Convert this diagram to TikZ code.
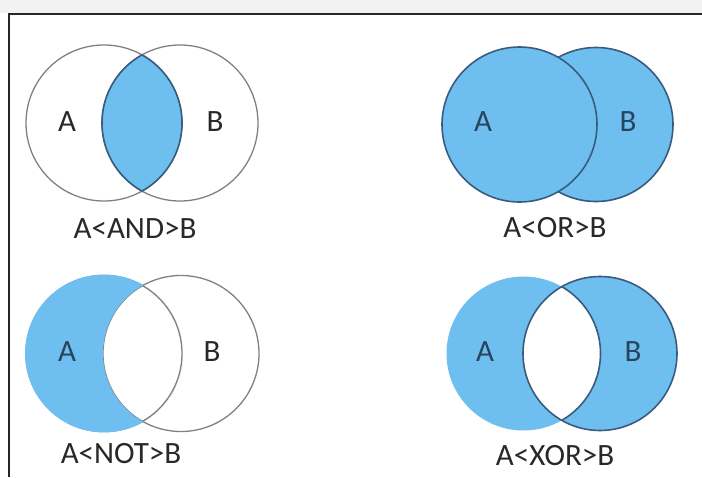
\documentclass[tikz,border=0pt]{standalone}
\usepackage{fontspec}
\setmainfont{Carlito}
\definecolor{vennblue}{RGB}{110,190,240}
\definecolor{venndark}{RGB}{55,92,125}
\definecolor{venngray}{RGB}{128,128,128}
\definecolor{labelgray}{RGB}{40,40,40}
\begin{document}
\begin{tikzpicture}[x=1pt,y=-1pt,
    setlbl/.style={font=\fontsize{31}{36}\selectfont, inner sep=0pt, text=labelgray},
    inlbl/.style={setlbl, text=venndark!75!black},
    thinring/.style={venngray, line width=1.3pt},
    darkring/.style={venndark, line width=1.6pt}]
\useasboundingbox (0,0) rectangle (702,477);
\fill[black!5] (0,0) rectangle (702,13);
\draw[line width=2pt, black!85] (8.5,477) -- (8.5,13.5) -- (702,13.5);

% A<AND>B
\coordinate (andAc) at (104,123);
\coordinate (andBc) at (180,123);
\draw[thinring] (andAc) circle (78);
\draw[thinring] (andBc) circle (78);
\begin{scope}
  \clip (andAc) circle (78);
  \fill[vennblue] (andBc) circle (78);
  \draw[darkring] (andBc) circle (78);
\end{scope}
\begin{scope}
  \clip (andBc) circle (78);
  \draw[darkring] (andAc) circle (78);
\end{scope}
\node[setlbl] (andA) at (67,122) {A};
\node[setlbl] (andB) at (215,122) {B};
\node[setlbl] (andcap) at (135,229) {A<AND>B};

% A<OR>B
\coordinate (orAc) at (519.5,124.5);
\coordinate (orBc) at (596,124.5);
\fill[vennblue] (orBc) circle (77);
\draw[darkring] (orBc) circle (77);
\fill[vennblue] (orAc) circle (77.5);
\draw[darkring] (orAc) circle (77.5);
\node[inlbl] (orA) at (483,122) {A};
\node[inlbl] (orB) at (628,122) {B};
\node[setlbl] (orcap) at (555,228) {A<OR>B};

% A<NOT>B
\coordinate (notAc) at (104,353.5);
\coordinate (notBc) at (181,353.5);
\draw[thinring] (notBc) circle (78);
\draw[thinring] (notAc) circle (78);
\begin{scope}
  \clip (notAc) circle (79);
  \fill[vennblue, even odd rule] (notAc) circle (79) (notBc) circle (78);
\end{scope}
\node[inlbl] (notA) at (67,352) {A};
\node[setlbl] (notB) at (212,352) {B};
\node[setlbl] (notcap) at (121,454) {A<NOT>B};

% A<XOR>B
\coordinate (xorAc) at (523.5,353.5);
\coordinate (xorBc) at (600,353.5);
\fill[vennblue, even odd rule] (xorAc) circle (77) (xorBc) circle (77);
\begin{scope}
  \clip (xorBc) circle (77);
  \draw[darkring] (xorAc) circle (77);
\end{scope}
\draw[darkring] (xorBc) circle (77);
\node[inlbl] (xorA) at (485,352) {A};
\node[inlbl] (xorB) at (633,352) {B};
\node[setlbl] (xorcap) at (555,456) {A<XOR>B};
\end{tikzpicture}
\end{document}
